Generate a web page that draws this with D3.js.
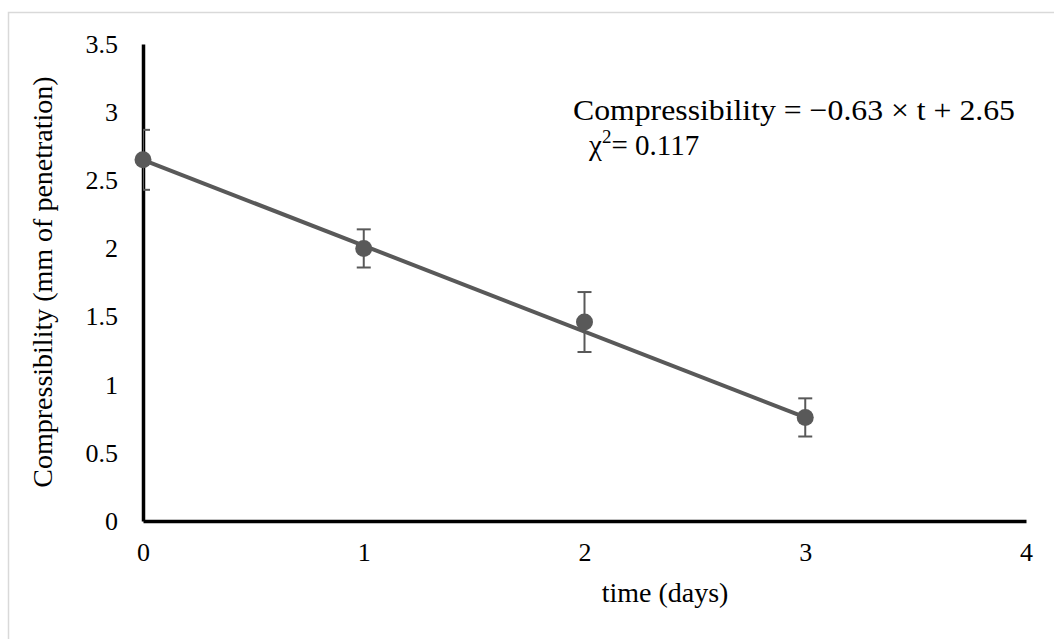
<!DOCTYPE html>
<html>
<head>
<meta charset="utf-8">
<script src="https://cdn.jsdelivr.net/npm/d3@7"></script>
<style>
  body { margin: 0; background: #fff; }
  svg { display: block; }
</style>
</head>
<body>
<div id="output"></div>
<script>
var w = 1054;
var h = 639;

// data
var days = [0, 1, 2, 3];
var compress = [2.65, 2.00, 1.46, 0.76];
var errs = [0.22, 0.14, 0.22, 0.14];
var xTicks = [0, 1, 2, 3, 4];
var yTicks = [0, 0.5, 1, 1.5, 2, 2.5, 3, 3.5];
var slope = -0.63;
var intercept = 2.65;
var eqLine = 'Compressibility = \u22120.63 \u00d7 t + 2.65';
var chiLine = '= 0.117';

var x = d3.scaleLinear().domain([0, 4]).range([143, 1026]);
var y = d3.scaleLinear().domain([0, 3.5]).range([521, 44]);
var grey = '#595959';
var serif = '"Liberation Serif", "Times New Roman", serif';

var svg = d3.select('#output').append('svg')
            .attr('width', w)
            .attr('height', h);

// chart frame (only left/top edges show)
svg.append('rect')
  .attr('x', 8.5).attr('y', 12.5)
  .attr('width', 1100).attr('height', 700)
  .attr('fill', 'none')
  .attr('stroke', '#d9d9d9')
  .attr('stroke-width', 1.5);

svg.append('clipPath').attr('id', 'plot')
  .append('rect')
  .attr('x', 143).attr('y', 30)
  .attr('width', 900).attr('height', 491);

var yAxis = svg.append('g')
  .attr('transform', 'translate(143,0)')
  .call(d3.axisLeft(y).tickValues(yTicks).tickSize(0).tickPadding(25)
        .tickFormat(function (d) { return d; }));
var xAxis = svg.append('g')
  .attr('transform', 'translate(0,521)')
  .call(d3.axisBottom(x).tickValues(xTicks).tickSize(0).tickPadding(22)
        .tickFormat(function (d) { return d; }));

[yAxis, xAxis].forEach(function (g) {
  g.select('.domain').attr('stroke', '#000').attr('stroke-width', 3.5);
  g.selectAll('text')
    .attr('font-family', serif)
    .attr('font-size', 26)
    .attr('fill', '#000');
});

// trend line
svg.append('line')
  .attr('x1', x(0)).attr('y1', y(intercept))
  .attr('x2', x(3)).attr('y2', y(slope * 3 + intercept))
  .attr('stroke', grey)
  .attr('stroke-width', 4);

// error bars
var eb = svg.append('g').attr('clip-path', 'url(#plot)')
  .selectAll('g').data(days).enter().append('g')
  .attr('stroke', grey).attr('stroke-width', 2);
eb.append('line')
  .attr('x1', function (d) { return x(d); })
  .attr('x2', function (d) { return x(d); })
  .attr('y1', function (d, i) { return y(compress[i] + errs[i]); })
  .attr('y2', function (d, i) { return y(compress[i] - errs[i]); });
eb.append('line')
  .attr('x1', function (d) { return x(d) - 7; })
  .attr('x2', function (d) { return x(d) + 7; })
  .attr('y1', function (d, i) { return y(compress[i] + errs[i]); })
  .attr('y2', function (d, i) { return y(compress[i] + errs[i]); });
eb.append('line')
  .attr('x1', function (d) { return x(d) - 7; })
  .attr('x2', function (d) { return x(d) + 7; })
  .attr('y1', function (d, i) { return y(compress[i] - errs[i]); })
  .attr('y2', function (d, i) { return y(compress[i] - errs[i]); });

// markers
svg.selectAll('circle')
  .data(days)
  .enter()
  .append('circle')
  .attr('cx', function (d) { return x(d); })
  .attr('cy', function (d, i) { return y(compress[i]); })
  .attr('r', 8.5)
  .attr('fill', grey);

// equation
svg.append('text')
  .attr('x', 573).attr('y', 120)
  .attr('font-family', serif)
  .attr('font-size', 30)
  .attr('textLength', 442)
  .attr('lengthAdjust', 'spacingAndGlyphs')
  .text(eqLine);
var chi = svg.append('text')
  .attr('x', 589).attr('y', 155)
  .attr('font-family', serif)
  .attr('font-size', 29);
chi.append('tspan').text('\u03c7');
chi.append('tspan').attr('dy', -12).attr('font-size', 19).text('2');
chi.append('tspan').attr('dy', 12).text(chiLine);

// axis titles
svg.append('text')
  .attr('x', 665).attr('y', 602)
  .attr('text-anchor', 'middle')
  .attr('font-family', serif)
  .attr('font-size', 28)
  .text('time (days)');
svg.append('text')
  .attr('transform', 'translate(52,282) rotate(-90)')
  .attr('text-anchor', 'middle')
  .attr('font-family', serif)
  .attr('font-size', 28)
  .text('Compressibility (mm of penetration)');
</script>
</body>
</html>
